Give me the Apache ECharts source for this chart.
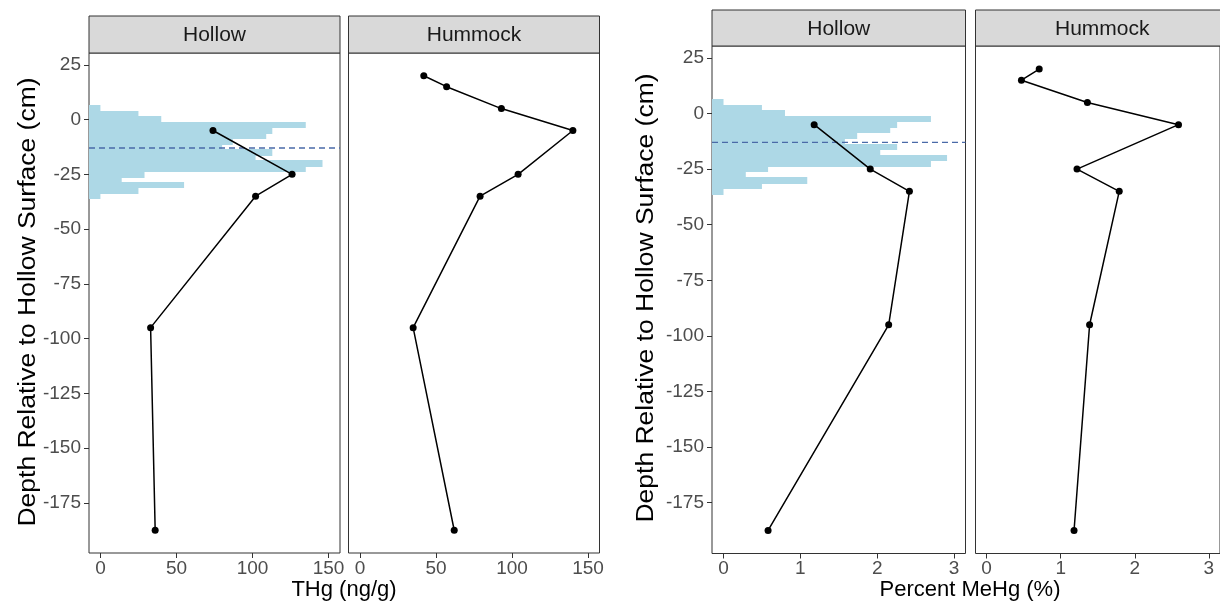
<!DOCTYPE html>
<html>
<head>
<meta charset="utf-8">
<script src="https://cdn.jsdelivr.net/npm/echarts@6/dist/echarts.min.js"></script>
<style>
  html, body { margin: 0; padding: 0; background: #ffffff; }
  #chart { width: 1220px; height: 611px; }
</style>
</head>
<body>
<div id="chart"></div>
<script>
// Depths (cm, relative to the hollow surface) of the sampled layers
const depthHollow = [-5, -25, -35, -95, -187.5];
const depthHummock = [20, 15, 5, -5, -25, -35, -95, -187.5];

// Total mercury (ng/g)
const thgHollow = [74, 126, 102, 33, 36];
const thgHummock = [42, 57, 93, 140, 104, 79, 35, 62];

// Percent methylmercury (%)
const mehgHollow = [1.18, 1.91, 2.42, 2.15, 0.58];
const mehgHummock = [0.71, 0.47, 1.36, 2.59, 1.22, 1.79, 1.39, 1.18];

// Water-table depth distribution: bin centres (2.5 cm bins) and bar extents
const binCentres = [5, 2.5, 0, -2.5, -5, -7.5, -10, -12.5, -15, -17.5, -20, -22.5, -25, -27.5, -30, -32.5, -35];
const histThg = [0, 25, 40, 135, 113, 109, 87, 80, 113, 102, 146, 135, 29, 14, 55, 25, 0];
const histMehg = [0, 0.5, 0.8, 2.7, 2.26, 2.17, 1.74, 1.58, 2.26, 2.04, 2.91, 2.7, 0.58, 0.29, 1.09, 0.5, 0];
const meanWaterTable = -13;

// Axis ranges and tick labels
const depthRange = [-197.875, 30.375];
const depthTicks = [25, 0, -25, -50, -75, -100, -125, -150, -175];
const thgRange = [-7.5, 157.5];
const thgTicks = [0, 50, 100, 150];
const mehgRange = [-0.15, 3.15];
const mehgTicks = [0, 1, 2, 3];

const panelNames = ['Hollow', 'Hummock'];
const BIN = 2.5;
const FONT = "'Liberation Sans', Arial, Helvetica, sans-serif";
const HIST_FILL = '#add8e6';

const chart = echarts.init(document.getElementById('chart'), null, { renderer: 'canvas' });

const grids = [
  { left: 89, top: 53, width: 251, height: 500 },
  { left: 348.5, top: 53, width: 251, height: 500 },
  { left: 712, top: 46, width: 253.5, height: 507.5 },
  { left: 975.5, top: 46, width: 253.5, height: 507.5 }
].map(g => Object.assign({ show: true, borderColor: '#333333', borderWidth: 1, backgroundColor: '#ffffff', containLabel: false }, g));

function xAxisFor(gridIndex, range, ticks) {
  return {
    type: 'value', gridIndex, min: range[0], max: range[1], position: 'bottom',
    axisLine: { show: false, onZero: false }, splitLine: { show: false },
    axisTick: { show: true, inside: false, length: 5, lineStyle: { color: '#333333', width: 1 }, customValues: ticks },
    axisLabel: { customValues: ticks, color: '#4d4d4d', fontSize: 19, fontFamily: FONT, margin: 6 }
  };
}
function yAxisFor(gridIndex, showLabels) {
  return {
    type: 'value', gridIndex, min: depthRange[0], max: depthRange[1], position: 'left',
    axisLine: { show: false, onZero: false }, splitLine: { show: false },
    axisTick: { show: showLabels, inside: false, length: 5, lineStyle: { color: '#333333', width: 1 }, customValues: depthTicks },
    axisLabel: { show: showLabels, customValues: depthTicks, color: '#4d4d4d', fontSize: 19, fontFamily: FONT, margin: 8 }
  };
}

// Horizontal histogram bars, each snapped to whole pixels so neighbouring bins join cleanly
function histSeries(axisIndex, xMin, values) {
  return {
    type: 'custom', xAxisIndex: axisIndex, yAxisIndex: axisIndex, silent: true,
    data: values.map((v, i) => [v, binCentres[i]]),
    renderItem: function (params, api) {
      const p0 = api.coord([xMin, api.value(1) + BIN / 2]);
      const p1 = api.coord([api.value(0), api.value(1) - BIN / 2]);
      const y0 = Math.floor(p0[1]);
      const y1 = Math.ceil(p1[1]);
      return {
        type: 'rect',
        shape: { x: p0[0], y: y0, width: p1[0] - p0[0], height: y1 - y0 },
        style: { fill: HIST_FILL }
      };
    }
  };
}
function waterTableSeries(axisIndex, range) {
  return {
    type: 'line', xAxisIndex: axisIndex, yAxisIndex: axisIndex, silent: true, symbol: 'none',
    data: [[range[0], meanWaterTable], [range[1], meanWaterTable]],
    lineStyle: { color: '#4a6aa8', width: 1.3, type: [6, 4] }
  };
}
function profileSeries(axisIndex, xs, depths) {
  return {
    type: 'line', xAxisIndex: axisIndex, yAxisIndex: axisIndex, silent: true,
    data: xs.map((x, i) => [x, depths[i]]),
    symbol: 'circle', symbolSize: 7,
    itemStyle: { color: '#000000' },
    lineStyle: { color: '#000000', width: 1.5 }
  };
}

// Facet strips above each panel
const strips = [];
grids.forEach((g, i) => {
  const top = i < 2 ? 16 : 10;
  const h = g.top - top;
  strips.push({
    type: 'rect', shape: { x: g.left, y: top, width: g.width, height: h },
    style: { fill: '#d9d9d9', stroke: '#333333', lineWidth: 1 }, z: 10
  });
  strips.push({
    type: 'text', x: g.left + g.width / 2, y: top + h / 2 + 1, z: 11,
    style: { text: panelNames[i % 2], font: '21px ' + FONT, fill: '#1a1a1a', textAlign: 'center', textVerticalAlign: 'middle' }
  });
});

const titles = [
  { type: 'text', x: 344, y: 590, style: { text: 'THg (ng/g)', font: '22px ' + FONT, fill: '#000000', textAlign: 'center', textVerticalAlign: 'middle' } },
  { type: 'text', x: 970, y: 590, style: { text: 'Percent MeHg (%)', font: '22px ' + FONT, fill: '#000000', textAlign: 'center', textVerticalAlign: 'middle' } },
  { type: 'text', x: 28, y: 302, rotation: Math.PI / 2, scaleY: 0.92, style: { text: 'Depth Relative to Hollow Surface (cm)', font: '26.5px ' + FONT, fill: '#000000', textAlign: 'center', textVerticalAlign: 'middle' } },
  { type: 'text', x: 646, y: 298, rotation: Math.PI / 2, scaleY: 0.92, style: { text: 'Depth Relative to Hollow Surface (cm)', font: '26.5px ' + FONT, fill: '#000000', textAlign: 'center', textVerticalAlign: 'middle' } }
];

chart.setOption({
  animation: false,
  backgroundColor: '#ffffff',
  grid: grids,
  xAxis: [
    xAxisFor(0, thgRange, thgTicks),
    xAxisFor(1, thgRange, thgTicks),
    xAxisFor(2, mehgRange, mehgTicks),
    xAxisFor(3, mehgRange, mehgTicks)
  ],
  yAxis: [yAxisFor(0, true), yAxisFor(1, false), yAxisFor(2, true), yAxisFor(3, false)],
  series: [
    histSeries(0, thgRange[0], histThg),
    waterTableSeries(0, thgRange),
    profileSeries(0, thgHollow, depthHollow),
    profileSeries(1, thgHummock, depthHummock),
    histSeries(2, mehgRange[0], histMehg),
    waterTableSeries(2, mehgRange),
    profileSeries(2, mehgHollow, depthHollow),
    profileSeries(3, mehgHummock, depthHummock)
  ],
  graphic: { elements: strips.concat(titles) }
});
</script>
</body>
</html>
